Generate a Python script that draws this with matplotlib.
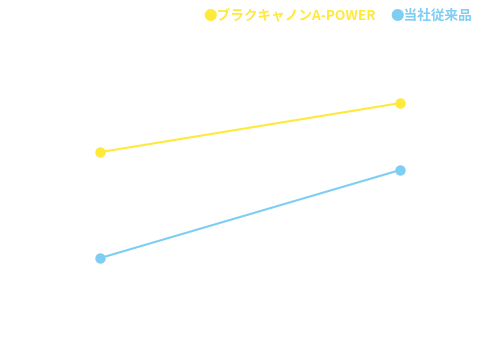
import matplotlib
matplotlib.use("Agg")
import matplotlib.pyplot as plt

plt.rcParams['font.family'] = ['Noto Sans CJK JP', 'DejaVu Sans']

categories = ["A", "B"]
series_names = ["ブラクキャノンA-POWER", "当社従来品"]
yellow_vals = [57.5, 71.2]
blue_vals = [27.9, 52.5]
colors = ["#FFE93B", "#7ECEF4"]

fig = plt.figure(figsize=(4.83, 3.58), dpi=100)
ax = fig.add_axes([0, 0, 1, 1])
x = [0, 1]
for vals, c in zip([yellow_vals, blue_vals], colors):
    ax.plot(x, vals, color=c, lw=1.5, marker='o', markersize=7.5, markeredgewidth=0)
ax.set_xlim(-100/300, 383/300)
ax.set_ylim(0, 100)
ax.axis('off')

# legend as text
fig.text(0.977, 0.955, "●" + series_names[1], color=colors[1], ha='right', va='center',
         fontsize=9.8, fontweight='bold')
fig.text(0.778, 0.955, "●" + series_names[0], color=colors[0], ha='right', va='center',
         fontsize=9.8, fontweight='bold')

fig.savefig("out.png", dpi=100)
